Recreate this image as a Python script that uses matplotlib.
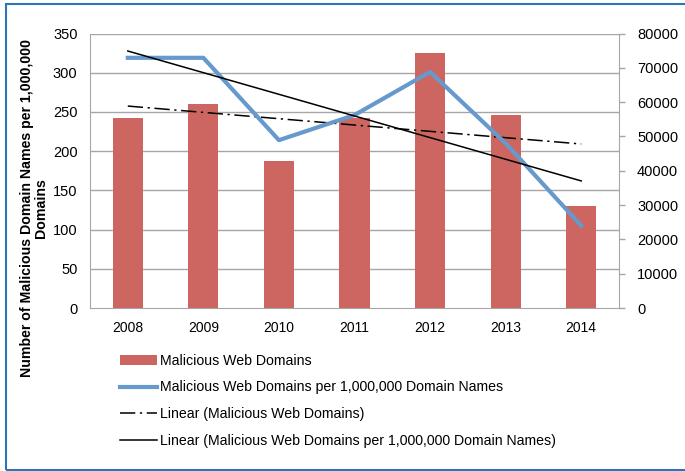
import numpy as np
import matplotlib
matplotlib.use("Agg")
from matplotlib import pyplot as plt
from matplotlib.patches import Rectangle

years = ["2008", "2009", "2010", "2011", "2012", "2013", "2014"]
# Malicious Web Domains (right axis)
domains = [55330, 59500, 42780, 55415, 74190, 56200, 29860]
# Malicious Web Domains per 1,000,000 Domain Names (left axis)
per_million = [319, 319, 214, 246, 301, 210, 105]

plt.rcParams['font.family'] = ['Liberation Sans', 'DejaVu Sans']
plt.rcParams['font.size'] = 10

bar_color = "#CD6660"
line_color = "#6699CC"
grid_color = "#A6A6A6"

fig = plt.figure(figsize=(6.85, 4.71), dpi=100)
W, H = 685, 471
ax = fig.add_axes([90 / W, 1 - 308 / H, (619 - 90) / W, (308 - 33.5) / H])
ax2 = ax.twinx()

x = np.arange(len(years))

# bars on the right axis
bars = ax2.bar(x, domains, width=0.4, color=bar_color, zorder=2,
               label="Malicious Web Domains")
ax2.set_ylim(0, 80000)
ax2.set_yticks(np.arange(0, 80001, 10000))

# trendlines (linear fits)
c1 = np.polyfit(x, domains, 1)
c2 = np.polyfit(x, per_million, 1)

ax.set_zorder(ax2.get_zorder() + 1)
ax.patch.set_visible(False)

l_main, = ax.plot(x, per_million, color=line_color, lw=3, zorder=3,
                  label="Malicious Web Domains per 1,000,000 Domain Names")
l_t1, = ax2.plot(x, np.polyval(c1, x), color="black", lw=1.1,
                 ls=(0, (10, 3, 1.5, 3)), zorder=3,
                 label="Linear (Malicious Web Domains)")
l_t2, = ax.plot(x, np.polyval(c2, x), color="black", lw=1.1, zorder=3,
                label="Linear (Malicious Web Domains per 1,000,000 Domain Names)")

ax.set_ylim(0, 350)
ax.set_yticks(np.arange(0, 351, 50))
ax.set_xlim(-0.5, len(years) - 0.5)
ax.set_xticks(x)
ax.set_xticklabels(years)

# grid lines drawn on the bar axis so they sit behind the bars
for v in np.arange(50, 351, 50):
    ax2.axhline(v / 350 * 80000, color=grid_color, lw=1, zorder=0)

for a in (ax, ax2):
    for s in a.spines.values():
        s.set_visible(False)
for side in ('left', 'right', 'bottom'):
    ax2.spines[side].set_visible(True)
    ax2.spines[side].set_color(grid_color)

ax.tick_params(axis='x', length=0, pad=9, labelsize=10)
ax.tick_params(axis='y', length=0, pad=9, labelsize=10.5)
ax2.tick_params(axis='y', length=4, width=1, color=grid_color, pad=9,
                labelsize=10.5)

fig.text(0.049, 1 - 208 / H,
         "Number of Malicious Domain Names per 1,000,000\nDomains",
         rotation=90, ha='center', va='center', fontweight='bold',
         fontsize=10.2, linespacing=1.0)

handles = [bars, l_main, l_t1, l_t2]
labels = [h.get_label() for h in handles]
fig.legend(handles, labels, loc='upper left',
           bbox_to_anchor=(107 / W, 1 - 341 / H), frameon=False,
           fontsize=10.2, handlelength=2.6, handletextpad=0.25,
           labelspacing=0.9)

# blue frame around the chart
fig.patches.append(Rectangle((6 / W, 1 - 470 / H), 1.0, (470 - 3.5) / H,
                             transform=fig.transFigure, fill=False,
                             edgecolor="#2E75B6", lw=1.5))

fig.savefig("out.png", dpi=100)
